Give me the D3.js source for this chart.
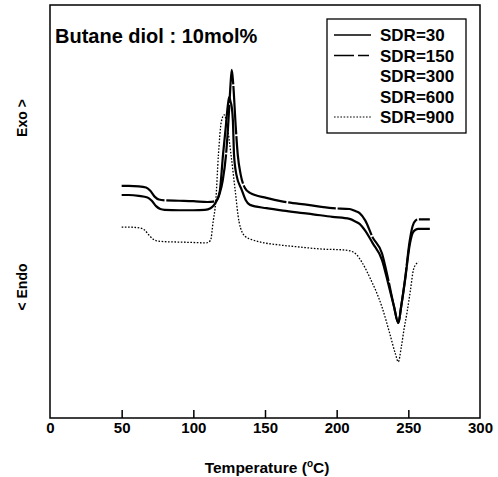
<!DOCTYPE html>
<html>
<head>
<meta charset="utf-8">
<script src="https://cdn.jsdelivr.net/npm/d3@7"></script>
<style>
  body { margin: 0; background: #fff; }
  svg { display: block; font-family: "Liberation Sans", Arial, sans-serif; }
</style>
</head>
<body>
<svg id="chart" width="498" height="477"></svg>
<script>
// DSC curves, butane diol 10mol% (heat flow in arbitrary units)
const legendNames = ["SDR=30", "SDR=150", "SDR=300", "SDR=600", "SDR=900"];
const xTickValues = [0, 50, 100, 150, 200, 250, 300];

// SDR=30 : lower solid curve
const sdr30 = [
  [50, 54.0], [55, 54.0], [62, 53.8], [68, 53.4], [71, 52.6], [74, 51.3], [77, 50.6],
  [80, 50.4], [90, 50.3], [100, 50.3], [108, 50.4], [112, 50.8], [114, 51.4], [116, 52.4],
  [118.5, 55], [120.7, 63.7], [122.5, 70], [124, 75.5], [125, 77.7], [126, 76.5],
  [126.8, 75.3], [127.6, 72], [128.4, 63.7], [130, 59], [133.8, 55.2], [136.5, 52.8],
  [139.5, 51.6], [151, 50.8], [162.6, 50.2], [180, 49.5], [197, 48.7], [209, 48.2],
  [213, 47.6], [216, 47.0], [220, 45.3], [225, 42.4], [231.6, 38.3], [236, 32.5],
  [240, 27], [243, 23], [245, 27], [247.7, 33.3], [251, 42], [253, 44.8], [255, 45.6],
  [257, 45.8], [265, 45.8]
];

// SDR=150 : upper curve with the tallest peak
const sdr150 = [
  [50, 56.2], [55, 56.2], [62, 56.1], [67, 55.8], [70, 55.0], [73, 53.6], [76, 52.9],
  [80, 52.7], [90, 52.6], [100, 52.5], [110, 52.3], [114, 52.4], [116.5, 52.8],
  [118.5, 54.5], [120.5, 57.5], [122.8, 63.7], [124.5, 72], [125.8, 80], [126.8, 84.3],
  [127.8, 81], [129.5, 71], [131, 63.7], [133, 59], [136, 55.7], [139.5, 54.5],
  [151, 53.3], [162.6, 52.4], [180, 51.6], [197, 50.8], [209, 50.6], [213, 50.1],
  [216, 49.6], [220, 47.8], [225, 43.8], [231.6, 39.9], [236, 33.5], [240, 27],
  [243, 23], [245, 27], [247.7, 33.6], [251, 43], [253, 46.5], [255, 47.8], [257, 48.1],
  [265, 48.1]
];

// SDR=900 : dotted curve
const sdr900 = [
  [50, 46.2], [56, 46.2], [62.8, 46.0], [66, 45.5], [69, 44.3], [72, 43.3], [74.4, 42.9],
  [80, 42.7], [90, 42.6], [100, 42.5], [109, 42.4], [112, 43], [113.8, 47.5], [115.6, 52.3],
  [117.5, 63.7], [119.5, 71.7], [121.6, 73.4], [123.5, 71], [126.3, 63.7], [129, 55.7],
  [131.9, 47.5], [136, 44], [141.6, 43.1], [148, 42.5], [160, 41.9], [174, 41.4],
  [190, 40.9], [204.5, 40.7], [210, 40.4], [214, 39.5], [218, 37.5], [223, 34.1],
  [231.6, 26.9], [237, 20.5], [241, 15.5], [243, 13.6], [245, 17], [247, 21.5],
  [249, 25.4], [251.5, 31], [253.5, 35.8], [255.5, 37.3], [257, 37.8]
];

const series = [
  { name: "SDR=30", values: sdr30, dash: null, width: 2.2 },
  { name: "SDR=150", values: sdr150, dash: "48,1.8", width: 2.2 },
  { name: "SDR=900", values: sdr900, dash: "1.6,1.6", width: 1.3 }
];

const svg = d3.select("#chart");
const margin = { top: 5, right: 18, bottom: 59, left: 50 };
const width = 498 - margin.left - margin.right;
const height = 477 - margin.top - margin.bottom;

const g = svg.append("g").attr("transform", `translate(${margin.left},${margin.top})`);

const x = d3.scaleLinear().domain([0, 300]).range([0, width]);
const y = d3.scaleLinear().domain([0, 100]).range([height, 0]);

// frame
g.append("rect")
  .attr("width", width)
  .attr("height", height)
  .attr("fill", "none")
  .attr("stroke", "#000")
  .attr("stroke-width", 1.5);

// x axis with inward ticks
const xAxisG = g.append("g")
  .attr("transform", `translate(0,${height})`)
  .call(d3.axisBottom(x).tickValues(xTickValues).tickSize(-8).tickPadding(4));
xAxisG.select(".domain").remove();
xAxisG.selectAll("line").attr("stroke", "#000").attr("stroke-width", 1.5)
  .filter(d => d === 0 || d === 300).remove();
xAxisG.selectAll("text")
  .attr("fill", "#000")
  .style("font-size", "15px")
  .style("font-weight", "bold")
  .style("font-family", "Liberation Sans, Arial, sans-serif");

// axis titles
const xLabel = svg.append("text")
  .attr("x", margin.left + width / 2 + 2)
  .attr("y", 473)
  .attr("text-anchor", "middle")
  .style("font-size", "15.5px")
  .style("font-weight", "bold")
  .text("Temperature (");
xLabel.append("tspan").attr("dy", -6).style("font-size", "10px").text("o");
xLabel.append("tspan").attr("dy", 6).text("C)");

svg.append("text")
  .attr("transform", "translate(27,118) rotate(-90)")
  .attr("text-anchor", "middle")
  .style("font-size", "14px")
  .style("font-weight", "bold")
  .text("Exo >");

svg.append("text")
  .attr("transform", "translate(27,287) rotate(-90)")
  .attr("text-anchor", "middle")
  .style("font-size", "14px")
  .style("font-weight", "bold")
  .text("< Endo");

// title inside plot
g.append("text")
  .attr("x", 5)
  .attr("y", 38)
  .style("font-size", "20px")
  .style("font-weight", "bold")
  .text("Butane diol : 10mol%");

// curves
const line = d3.line()
  .x(d => x(d[0]))
  .y(d => y(d[1]))
  .curve(d3.curveMonotoneX);

g.selectAll("path.curve")
  .data(series)
  .join("path")
  .attr("class", "curve")
  .attr("d", d => line(d.values))
  .attr("fill", "none")
  .attr("stroke", "#000")
  .attr("stroke-width", d => d.width)
  .attr("stroke-dasharray", d => d.dash);

// legend
const legend = svg.append("g").attr("transform", "translate(327,19)");
legend.append("rect")
  .attr("width", 139)
  .attr("height", 114)
  .attr("fill", "#fff")
  .attr("stroke", "#000")
  .attr("stroke-width", 1.3);

const rows = legend.selectAll("g.row")
  .data(legendNames)
  .join("g")
  .attr("class", "row")
  .attr("transform", (d, i) => `translate(0,${16 + i * 20.5})`);

rows.each(function (name) {
  const s = series.find(e => e.name === name);
  if (!s) return;
  d3.select(this).append("line")
    .attr("x1", 7).attr("x2", 44)
    .attr("y1", 0).attr("y2", 0)
    .attr("stroke", "#000")
    .attr("stroke-width", s.width > 2 ? 1.6 : 1.2)
    .attr("stroke-dasharray", name === "SDR=150" ? "20,4,11" : s.dash);
});

rows.append("text")
  .attr("x", 53)
  .attr("y", 6)
  .style("font-size", "17px")
  .style("font-weight", "bold")
  .text(d => d);
</script>
</body>
</html>
